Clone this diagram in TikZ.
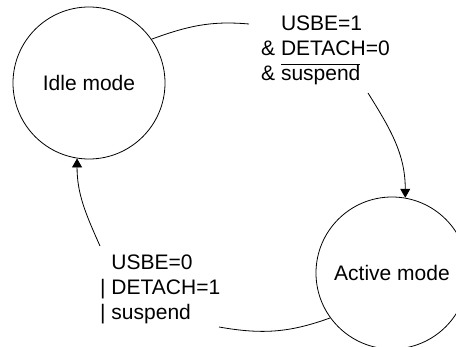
\documentclass[tikz,border=0pt]{standalone}
\usepackage{fontspec}
\setmainfont{Liberation Sans}
\usetikzlibrary{arrows.meta}
\newsavebox\ovbox
\newcommand\myover[1]{\sbox\ovbox{#1}\rlap{\raisebox{16pt}{\rule{\wd\ovbox}{0.8pt}}}\usebox\ovbox}
\begin{document}
\begin{tikzpicture}[x=1pt,y=-1pt,
  state/.style={draw, circle, minimum size=152pt, inner sep=0pt, line width=0.8pt, font=\fontsize{21}{25}\selectfont},
  lbl/.style={align=left, inner sep=0pt, anchor=base west, font=\fontsize{21}{25}\selectfont},
  conn/.style={line width=0.8pt},
  tip/.style={-{Triangle[length=9pt,width=10pt]}}]
\clip (0,0) rectangle (456,347);
\node[state] (idle) at (89,83) {Idle mode};
\node[state] (active) at (392,273) {Active mode};
\coordinate (c1) at (249,24);
\coordinate (c2) at (368,93);
\coordinate (c3) at (219,327);
\coordinate (c4) at (100,246);
\draw[conn] (idle.35) to[out=20,in=175] (c1);
\draw[conn,tip] (c2) to[out=-58,in=90] (active.80);
\draw[conn] (active.216) to[out=200,in=-10] (c3);
\draw[conn,tip] (c4) to[out=114,in=-90] (idle.261);
\node[lbl] (l1) at (261,81) {\hphantom{\& }USBE=1\\\& DETACH=0\\\& \myover{suspend}};
\node[lbl] (l2) at (100,320) {\hphantom{| }USBE=0\\| DETACH=1\\| suspend};
\end{tikzpicture}
\end{document}
